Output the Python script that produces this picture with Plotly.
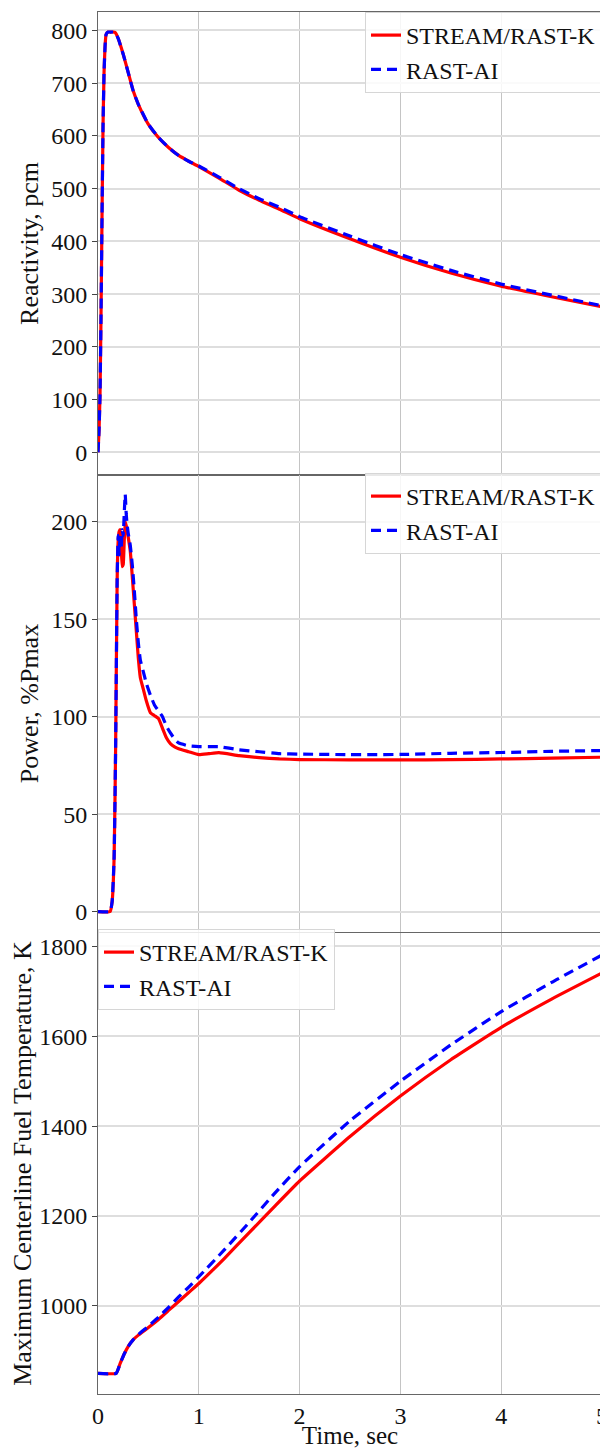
import plotly.graph_objects as go

# ---------------- data ----------------
series_names = ["STREAM/RAST-K", "RAST-AI"]

# Reactivity, pcm
t_react = [0, 0.01, 0.02, 0.03, 0.04, 0.05, 0.06, 0.07, 0.08, 0.10, 0.12, 0.15, 0.17, 0.20,
           0.25, 0.30, 0.35, 0.40, 0.50, 0.60, 0.70, 0.80, 0.90, 1.0, 1.2, 1.4, 1.6, 1.8,
           2.0, 2.5, 3.0, 3.5, 4.0, 4.5, 5.0]
react_stream = [0, 40, 110, 260, 450, 620, 720, 770, 792, 797, 797, 797, 796, 785,
                755, 720, 685, 660, 622, 597, 578, 563, 552, 542, 520, 497, 478, 461,
                443, 405, 370, 340, 315, 295, 276]
react_ai = [0, 40, 110, 260, 450, 620, 720, 770, 792, 797, 797, 797, 796, 785,
            755, 720, 685, 660, 622, 597, 578, 563, 552, 543, 522, 500, 481, 465,
            447, 410, 375, 345, 319, 298, 278]

# Power, %Pmax
t_power = [0, 0.12, 0.14, 0.16, 0.175, 0.19, 0.20, 0.21, 0.22, 0.23, 0.24, 0.25, 0.26,
           0.27, 0.28, 0.29, 0.30, 0.32, 0.34, 0.36, 0.38, 0.40, 0.42, 0.45, 0.48, 0.52,
           0.56, 0.60, 0.64, 0.68, 0.72, 0.76, 0.80, 0.90, 1.0, 1.1, 1.2, 1.4, 1.6, 1.8,
           2.0, 2.5, 3.0, 3.5, 4.0, 4.5, 5.0]
power_stream = [0, 0, 5, 28, 85, 170, 190, 195, 196, 188, 177, 178, 190,
                200, 198, 195, 192, 185, 172, 158, 144, 130, 120, 114, 108, 102,
                100.5, 99, 94, 89, 86, 84.5, 83.5, 82, 80.5, 81, 81.5, 80, 79, 78.3,
                78, 77.8, 77.8, 77.9, 78.3, 78.7, 79.2]
power_ai = [0, 0, 5, 28, 85, 170, 193, 183, 194, 186, 196, 193, 204,
            214, 204, 198, 194, 188, 178, 165, 150, 138, 129, 123, 117, 111,
            106, 103, 100, 95, 91.5, 88.5, 86.5, 85, 84.6, 84.6, 84.6, 83, 82, 81,
            80.8, 80.5, 80.6, 81.2, 81.6, 82.2, 82.6]

# Maximum centerline fuel temperature, K
t_temp = [0, 0.18, 0.22, 0.26, 0.30, 0.35, 0.40, 0.5, 0.6, 0.7, 0.8, 0.9, 1.0, 1.25, 1.5,
          1.75, 2.0, 2.5, 3.0, 3.5, 4.0, 4.5, 5.0]
temp_stream = [850, 850, 872, 893, 910, 925, 935, 952, 970, 990, 1010, 1030, 1050, 1105, 1163,
               1221, 1278, 1377, 1467, 1548, 1620, 1683, 1741]
temp_ai = [850, 850, 872, 893, 910, 925, 936, 955, 975, 997, 1020, 1042, 1065, 1124, 1186,
           1250, 1310, 1412, 1500, 1581, 1655, 1720, 1781]

x_ticks = [0, 1, 2, 3, 4, 5]
react_ticks = [0, 100, 200, 300, 400, 500, 600, 700, 800]
power_ticks = [0, 50, 100, 150, 200]
temp_ticks = [1000, 1200, 1400, 1600, 1800]

# ---------------- styling ----------------
FONT = "Liberation Serif, Times New Roman, serif"
INK = "#111111"
RED = "#ff0000"
BLUE = "#0000ff"
LW = 3.2
TICK_SIZE = 24
TITLE_SIZE = 26
LEG_SIZE = 24

fig = go.Figure()

panels = [
    (t_react, react_stream, react_ai, "x", "y", "legend"),
    (t_power, power_stream, power_ai, "x2", "y2", "legend2"),
    (t_temp, temp_stream, temp_ai, "x3", "y3", "legend3"),
]
for t, s, a, xa, ya, lg in panels:
    fig.add_trace(go.Scatter(x=t, y=s, mode="lines", name=series_names[0],
                             line=dict(color=RED, width=LW, shape="spline", smoothing=0.4),
                             xaxis=xa, yaxis=ya, legend=lg))
    fig.add_trace(go.Scatter(x=t, y=a, mode="lines", name=series_names[1],
                             line=dict(color=BLUE, width=LW, dash="10px,6px",
                                       shape="spline", smoothing=0.4),
                             xaxis=xa, yaxis=ya, legend=lg))

# page body has an 8px default margin: figure occupies x 8..608, y 8..1449 of the view
OFF = 8
W = 608 - OFF
H = 1449 - OFF
top_m = 12 - OFF
bot_m = 1449 - 1394
left_m = 98 - OFF
right_m = 6
plot_h = H - top_m - bot_m


def frac(py):
    # py: pixel row in the 1449-high view
    return (1394 - py) / plot_h


d1 = [frac(475), 1.0]
d2 = [frac(932), frac(475)]
d3 = [0.0, frac(933)]

axis_common = dict(showline=True, mirror=True, linecolor="#666666", linewidth=1,
                   ticklen=5, tickcolor="#444444",
                   tickfont=dict(family=FONT, size=TICK_SIZE, color=INK),
                   zeroline=False, automargin=True)

xgrid = dict(showgrid=True, gridcolor="#c4c4c4", gridwidth=1)
ygrid = dict(showgrid=True, gridcolor="#dedede", gridwidth=1.5)

for i in ["", "2", "3"]:
    fig.update_layout(**{
        "xaxis" + i: dict(range=[0, 5], tickvals=x_ticks, anchor="y" + i,
                          showticklabels=(i == "3"), ticks="",
                          matches=None if i == "" else "x",
                          ticklabeloverflow="allow",
                          **axis_common, **xgrid),
    })

title_font = dict(family=FONT, size=TITLE_SIZE, color=INK)
fig.update_layout(
    xaxis3=dict(title=dict(text="Time, sec", font=dict(family=FONT, size=25, color=INK),
                           standoff=0)),
    yaxis=dict(domain=d1, range=[-43, 835], tickvals=react_ticks, anchor="x", ticks="outside",
               title=dict(text="Reactivity, pcm", font=title_font, standoff=5),
               **axis_common, **ygrid),
    yaxis2=dict(domain=d2, range=[-10.5, 224], tickvals=power_ticks, anchor="x2", ticks="outside",
                title=dict(text="Power, %Pmax", font=title_font, standoff=5),
                **axis_common, **ygrid),
    yaxis3=dict(domain=d3, range=[804, 1830], tickvals=temp_ticks, anchor="x3", ticks="outside",
                title=dict(text="Maximum Centerline Fuel Temperature, K", font=title_font,
                           standoff=6),
                **axis_common, **ygrid),
)

leg_common = dict(font=dict(family=FONT, size=LEG_SIZE, color=INK),
                  bgcolor="rgba(255,255,255,0.85)", bordercolor="#d6d6d6", borderwidth=1,
                  itemwidth=30, tracegroupgap=0)
px = 1 / plot_h
fig.update_layout(
    legend=dict(x=1.0, y=1.0, xanchor="right", yanchor="top", **leg_common),
    legend2=dict(x=1.0, y=d2[1] + 2 * px, xanchor="right", yanchor="top", **leg_common),
    legend3=dict(x=0.0, y=d3[1] + 4 * px, xanchor="left", yanchor="top", **leg_common),
)

fig.update_layout(
    width=W, height=H,
    margin=dict(l=left_m, r=right_m, t=top_m, b=bot_m, autoexpand=False),
    paper_bgcolor="white", plot_bgcolor="white",
    font=dict(family=FONT, size=TICK_SIZE, color=INK),
    showlegend=True,
)

fig.write_html("out.html")
